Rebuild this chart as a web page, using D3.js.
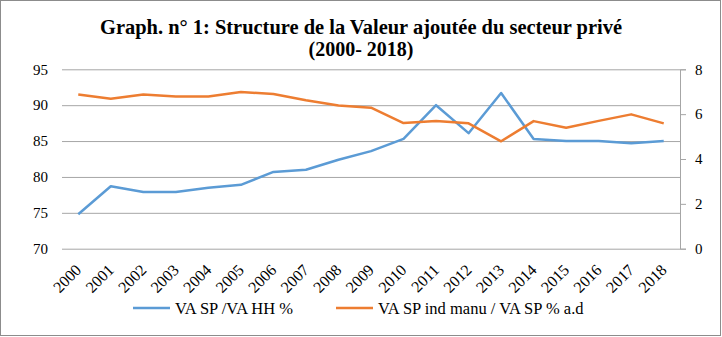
<!DOCTYPE html>
<html>
<head>
<meta charset="utf-8">
<script src="https://cdn.jsdelivr.net/npm/d3@7"></script>
<style>
  body { margin: 0; background: #fff; }
</style>
</head>
<body>
<div id="graph-container"></div>
<script>
// Daten
var years = ["2000","2001","2002","2003","2004","2005","2006","2007","2008","2009",
             "2010","2011","2012","2013","2014","2015","2016","2017","2018"];
var vaSpHh = [74.8, 78.7, 77.9, 77.9, 78.5, 78.9, 80.7, 81.0, 82.4, 83.6,
              85.3, 90.0, 86.1, 91.7, 85.3, 85.0, 85.0, 84.7, 85.0];
var vaIndManu = [6.88, 6.69, 6.88, 6.79, 6.79, 6.99, 6.90, 6.62, 6.39, 6.29,
                 5.60, 5.69, 5.59, 4.79, 5.69, 5.39, 5.70, 5.99, 5.59];
var leftTicks = [70, 75, 80, 85, 90, 95];
var rightTicks = [0, 2, 4, 6, 8];
var seriesNames = ["VA SP /VA HH %", "VA SP ind manu / VA SP % a.d"];
var colors = ["#5b9bd5", "#ed7d31"];

var serif = "'Liberation Serif', 'Times New Roman', serif";
var width = 722, height = 337;
var plot = {left: 62, right: 680, top: 69.3, bottom: 248.7};

var svg = d3.select("#graph-container")
    .append("svg")
    .attr("width", width)
    .attr("height", height)
    .style("font-family", serif);

// Rahmen
svg.append("rect")
    .attr("x", 0.5).attr("y", 0.5)
    .attr("width", width - 2).attr("height", height - 2)
    .attr("fill", "#fff")
    .attr("stroke", "#8c8c8c");

// Titel
svg.append("text")
    .attr("x", 361).attr("y", 34)
    .attr("text-anchor", "middle")
    .style("font-size", "20px").style("font-weight", "bold")
    .attr("textLength", 522).attr("lengthAdjust", "spacingAndGlyphs")
    .text("Graph. n° 1: Structure de la Valeur ajoutée du secteur privé");
svg.append("text")
    .attr("x", 361).attr("y", 56)
    .attr("text-anchor", "middle")
    .style("font-size", "20px").style("font-weight", "bold")
    .text("(2000- 2018)");

var x = d3.scaleBand().domain(years).range([plot.left, plot.right]);
var yL = d3.scaleLinear().domain([70, 95]).range([plot.bottom, plot.top]);
var yR = d3.scaleLinear().domain([0, 8]).range([plot.bottom, plot.top]);

// Gitternetz + linke Achse
var leftAxis = svg.append("g")
    .attr("transform", "translate(" + plot.left + ",0)")
    .call(d3.axisLeft(yL).tickValues(leftTicks).tickSize(-(plot.right - plot.left)).tickPadding(14));
leftAxis.select(".domain").remove();
leftAxis.selectAll("line").attr("stroke", "#a6a6a6");
leftAxis.selectAll("text").style("font-size", "15px").style("font-family", serif).attr("fill", "#000");

// rechte Achse
var rightAxis = svg.append("g")
    .attr("transform", "translate(" + plot.right + ",0)")
    .call(d3.axisRight(yR).tickValues(rightTicks).tickSize(6).tickPadding(9));
rightAxis.select(".domain").attr("stroke", "#a6a6a6");
rightAxis.selectAll("line").attr("stroke", "#a6a6a6");
rightAxis.selectAll("text").style("font-size", "15px").style("font-family", serif).attr("fill", "#000");

// Jahre, gedreht
svg.selectAll(".year")
    .data(years)
    .join("text")
    .attr("class", "year")
    .attr("text-anchor", "end")
    .attr("transform", d => "translate(" + (x(d) + x.bandwidth() / 2 + 4) + "," + 271 + ") rotate(-45)")
    .style("font-size", "16px")
    .text(d => d);

// Linien
var lineL = d3.line().x((d, i) => x(years[i]) + x.bandwidth() / 2).y(d => yL(d));
var lineR = d3.line().x((d, i) => x(years[i]) + x.bandwidth() / 2).y(d => yR(d));

svg.append("path")
    .datum(vaSpHh)
    .attr("d", lineL)
    .attr("fill", "none")
    .attr("stroke", colors[0])
    .attr("stroke-width", 2.5)
    .attr("stroke-linejoin", "round");
svg.append("path")
    .datum(vaIndManu)
    .attr("d", lineR)
    .attr("fill", "none")
    .attr("stroke", colors[1])
    .attr("stroke-width", 2.5)
    .attr("stroke-linejoin", "round");

// Legende
var legendX = [133, 336];
var legend = svg.selectAll(".legend")
    .data(seriesNames)
    .join("g")
    .attr("class", "legend")
    .attr("transform", (d, i) => "translate(" + legendX[i] + ",308)");
legend.append("line")
    .attr("x1", 0).attr("x2", 37)
    .attr("stroke", (d, i) => colors[i])
    .attr("stroke-width", 2.5);
legend.append("text")
    .attr("x", 42).attr("y", 6)
    .style("font-size", "16.5px")
    .text(d => d);
</script>
</body>
</html>
